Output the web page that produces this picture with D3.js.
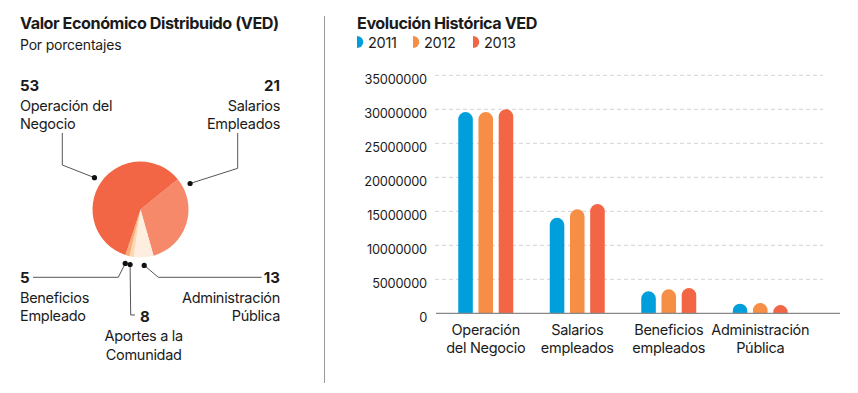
<!DOCTYPE html>
<html>
<head>
<meta charset="utf-8">
<script src="https://cdn.jsdelivr.net/npm/d3@7"></script>
<style>
  body { margin: 0; background: #fff; }
  svg { display: block; font-family: Inter, "Noto Sans", sans-serif; }
  text { fill: #1b1b1b; }
</style>
</head>
<body>
<div id="chart"></div>
<script>
// ---- data ----
const categories = ["Operación del Negocio", "Salarios empleados", "Beneficios empleados", "Administración Pública"];
const catLines = [["Operación", "del Negocio"], ["Salarios", "empleados"], ["Beneficios", "empleados"], ["Administración", "Pública"]];
const years = ["2011", "2012", "2013"];
const values2011 = [29600000, 14050000, 3240000, 1410000];
const values2012 = [29600000, 15300000, 3530000, 1510000];
const values2013 = [30000000, 16070000, 3720000, 1220000];
const yTicks = [0, 5000000, 10000000, 15000000, 20000000, 25000000, 30000000, 35000000];

// pie slices (clockwise, as drawn) and their printed percentages
const pieNames = ["Salarios Empleados", "Administración Pública", "Aportes a la Comunidad", "Beneficios Empleado", "Operación del Negocio"];
const pieNameLines = [["Salarios", "Empleados"], ["Administración", "Pública"], ["Aportes a la", "Comunidad"], ["Beneficios", "Empleado"], ["Operación del", "Negocio"]];
const pieShares = [31.2, 6.6, 1.4, 1.4, 58.6];
const pieLabels = [21, 13, 8, 5, 53];

const barColors = ["#009fdb", "#f68e45", "#f26645"];
const pieColors = ["#f5896a", "#fdeee0", "#fdd6b3", "#f9ab76", "#f26645"];

const W = 858, H = 393;
const svg = d3.select("#chart").append("svg").attr("width", W).attr("height", H);

// divider
svg.append("line").attr("x1", 324.5).attr("x2", 324.5).attr("y1", 16).attr("y2", 383)
  .attr("stroke", "#999").attr("stroke-width", 1);

// ---------------- left: pie ----------------
svg.append("text").attr("x", 20).attr("y", 29).attr("font-size", 16.2).attr("font-weight", 700)
  .attr("letter-spacing", -0.45).text("Valor Económico Distribuido (VED)");
svg.append("text").attr("x", 20).attr("y", 50).attr("font-size", 14)
  .attr("letter-spacing", -0.2).text("Por porcentajes");

const cx = 140.5, cy = 209.5, R = 48;
const start = 51 * Math.PI / 180;
const pie = d3.pie().sort(null).value(d => d).startAngle(start).endAngle(start + 2 * Math.PI);
const arcs = pie(pieShares);
const arc = d3.arc().innerRadius(0).outerRadius(R);

const gPie = svg.append("g").attr("transform", `translate(${cx},${cy})`);
gPie.selectAll("path").data(arcs).enter().append("path")
  .attr("d", arc).attr("fill", (d, i) => pieColors[i]);

// label layout (position of the text block + leader path), one per slice
const labelLayout = [
  { x: 280, anchor: "end", y: 91, at: 0.1, elbow: [[237.7, 133], [237.7, 168.3]] },
  { x: 280, anchor: "end", y: 283, at: 0.5, elbow: [[261.7, 277.3], [158.3, 277.3]] },
  { x: 140, anchor: "start", y: 321.7, at: 0.5, elbow: [[135, 315], [130.7, 315]], center: 143.7 },
  { x: 20, anchor: "start", y: 283, at: 0.5, elbow: [[33, 277.3], [118.3, 277.3]] },
  { x: 20, anchor: "start", y: 91, at: 0.5, elbow: [[62.3, 133], [62.3, 165]] }
];
const dotR = 56;

arcs.forEach((a, i) => {
  const L = labelLayout[i];
  const ang = a.startAngle + (a.endAngle - a.startAngle) * L.at;
  const dx = cx + dotR * Math.sin(ang), dy = cy - dotR * Math.cos(ang);
  const pts = L.elbow.concat([[dx, dy]]);
  svg.append("path").attr("d", d3.line()(pts)).attr("fill", "none")
    .attr("stroke", "#555").attr("stroke-width", 1);
  svg.append("circle").attr("cx", dx).attr("cy", dy).attr("r", 2.6).attr("fill", "#111");

  svg.append("text").attr("x", L.x).attr("y", L.y).attr("text-anchor", L.anchor)
    .attr("font-size", 15).attr("font-weight", 700).text(pieLabels[i]);
  pieNameLines[i].forEach((p, k) => {
    const t = svg.append("text").attr("font-size", 14.5).attr("letter-spacing", -0.3)
      .attr("y", L.y + 19.5 + k * 18.5).text(p);
    if (L.center) t.attr("x", L.center).attr("text-anchor", "middle");
    else t.attr("x", L.x).attr("text-anchor", L.anchor);
  });
});

// ---------------- right: bars ----------------
svg.append("text").attr("x", 357).attr("y", 29).attr("font-size", 16.2).attr("font-weight", 700)
  .attr("letter-spacing", -0.45).text("Evolución Histórica VED");

const legendX = [357, 413, 473];
years.forEach((yr, i) => {
  const g = svg.append("g").attr("transform", `translate(${legendX[i]},36)`);
  g.append("path").attr("d", "M0,0 A6.3,6 0 0 1 0,12 Z").attr("fill", barColors[i]);
  g.append("text").attr("x", 11).attr("y", 12.3).attr("font-size", 14.5).attr("letter-spacing", -0.3).text(yr);
});

const y = d3.scaleLinear().domain([0, 35000000]).range([313.3, 75.3]);
const x = d3.scaleBand().domain(categories).range([440, 806]);
const xi = d3.scaleBand().domain(years).range([-27.5, 27.5]).paddingInner(0.28);

// gridlines
svg.append("g").selectAll("line").data(yTicks.filter(d => d > 0)).enter().append("line")
  .attr("x1", 435).attr("x2", 823).attr("y1", d => y(d)).attr("y2", d => y(d))
  .attr("stroke", "#d2d2d2").attr("stroke-dasharray", "4,3");

// y labels
svg.append("g").selectAll("text").data(yTicks).enter().append("text")
  .attr("x", 427).attr("y", d => y(d) + 9).attr("text-anchor", "end")
  .attr("font-size", 12.8).attr("letter-spacing", -0.2).text(d => d);

const series = [values2011, values2012, values2013];
function roundTop(x0, y0, w, base) {
  const r = w / 2, h = base - y0;
  if (h >= r) {
    return `M${x0},${base}L${x0},${y0 + r}A${r},${r} 0 0 1 ${x0 + w},${y0 + r}L${x0 + w},${base}Z`;
  }
  return `M${x0},${base}A${r},${h} 0 0 1 ${x0 + w},${base}Z`;
}
series.forEach((vals, s) => {
  svg.append("g").selectAll("path").data(vals).enter().append("path")
    .attr("d", (d, i) => {
      const cxb = x(categories[i]) + x.bandwidth() / 2 + xi(years[s]);
      return roundTop(cxb, y(d), xi.bandwidth(), y(0));
    })
    .attr("fill", barColors[s]);
});

// baseline
svg.append("line").attr("x1", 436).attr("x2", 840).attr("y1", y(0)).attr("y2", y(0))
  .attr("stroke", "#888").attr("stroke-width", 1.2);

// category labels
categories.forEach((c, i) => {
  catLines[i].forEach((ln, k) => {
    svg.append("text").attr("x", x(c) + x.bandwidth() / 2).attr("y", 335 + k * 17.5)
      .attr("text-anchor", "middle").attr("font-size", 14.5).attr("letter-spacing", -0.3).text(ln);
  });
});
</script>
</body>
</html>
